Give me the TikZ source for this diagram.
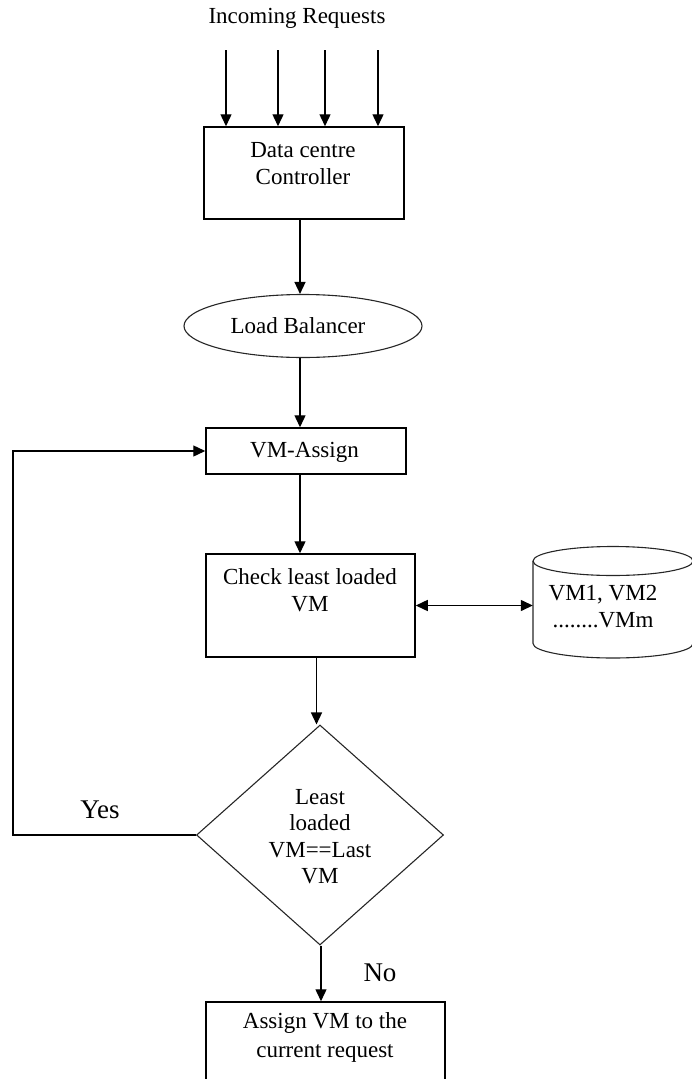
\documentclass[tikz,border=0pt]{standalone}
\usepackage{fontspec}
\setmainfont{Liberation Serif}
\usetikzlibrary{arrows.meta,shapes.geometric}
\tikzset{
  box/.style={draw=black, line width=1.5pt, rectangle, inner sep=0pt},
  thin/.style={draw=black!85, line width=1.1pt},
  txt/.style={align=center, inner sep=0pt, font=\fontsize{23}{27}\selectfont},
  big/.style={inner sep=0pt, font=\fontsize{27}{30}\selectfont},
  arr/.style={line width=1.4pt, -{Triangle[length=12pt,width=11pt]}},
  darr/.style={line width=1.4pt, {Triangle[length=12pt,width=11pt]}-{Triangle[length=12pt,width=11pt]}},
  ln/.style={line width=1.4pt}
}
\begin{document}
\begin{tikzpicture}[x=1pt,y=-1pt]
\useasboundingbox (0,0) rectangle (692,1079);
% title
\node[txt] (title) at (297,18) {Incoming Requests};
% controller
\node[box, minimum width=200pt, minimum height=92pt] (ctrl) at (304,173) {};
\node[txt] (ctrltxt) at (303,164) {Data centre\\Controller};
\coordinate (in1) at (226,50);
\coordinate (in2) at (278,50);
\coordinate (in3) at (325,50);
\coordinate (in4) at (378,50);
\foreach \i in {1,...,4} {\draw[arr] (in\i) -- (in\i |- ctrl.north);}
% load balancer
\node[thin, ellipse, minimum width=238pt, minimum height=63pt, inner sep=0pt] (lb) at (303,326) {};
\node[txt] (lbtxt) at (298,326) {Load Balancer};
% VM-Assign
\node[box, minimum width=200pt, minimum height=46pt] (vma) at (306,451) {};
\node[txt] (vmatxt) at (304.5,452) {VM-Assign};
% check box
\node[box, minimum width=209pt, minimum height=103pt] (chk) at (310.5,605.5) {};
\node[txt] (chktxt) at (310,590.5) {Check least loaded\\VM};
% cylinder
\node[inner sep=0pt, minimum width=160pt, minimum height=112pt] (db) at (613,602) {};
\draw[thin] (533,561) -- (533,643.5) arc[start angle=180, end angle=360, x radius=80pt, y radius=14.5pt] -- (693,561);
\draw[thin] (613,561) ellipse[x radius=80pt, y radius=14.5pt];
\node[txt] (dbtxt) at (603,607) {VM1, VM2\\........VMm};
% diamond
\node[thin, diamond, minimum width=247pt, minimum height=220pt, inner sep=0pt] (dec) at (320,835) {};
\node[txt, font=\fontsize{23}{26.5}\selectfont] (dectxt) at (320,836.5) {Least\\loaded\\VM==Last\\VM};
% final box
\node[box, minimum width=239pt, minimum height=120pt] (asg) at (325.5,1062) {};
\node[txt, font=\fontsize{23}{29}\selectfont] (asgtxt) at (325,1037.5) {Assign VM to the\\current request};
% labels
\node[big] (yes) at (100,810) {Yes};
\node[big] (no) at (380,973) {No};
% connectors
\draw[arr] ([xshift=-4pt]ctrl.south) -- ([xshift=-4pt]ctrl.south |- lb.north);
\draw[arr] ([xshift=-3pt]lb.south) -- ([xshift=-3pt]lb.south |- vma.north);
\draw[arr] ([xshift=-6pt]vma.south) -- ([xshift=-6pt]vma.south |- chk.north);
\draw[arr] ([xshift=6pt]chk.south) -- ([xshift=6pt]chk.south |- dec.north);
\draw[arr] ([xshift=1pt]dec.south) -- ([xshift=1pt]dec.south |- asg.north);
\draw[darr] (chk.east) -- (chk.east -| db.west);
\coordinate (lp) at (13,0);
\draw[arr] (dec.west) -- (dec.west -| lp) -- (lp |- vma.west) -- (vma.west);
\end{tikzpicture}
\end{document}
